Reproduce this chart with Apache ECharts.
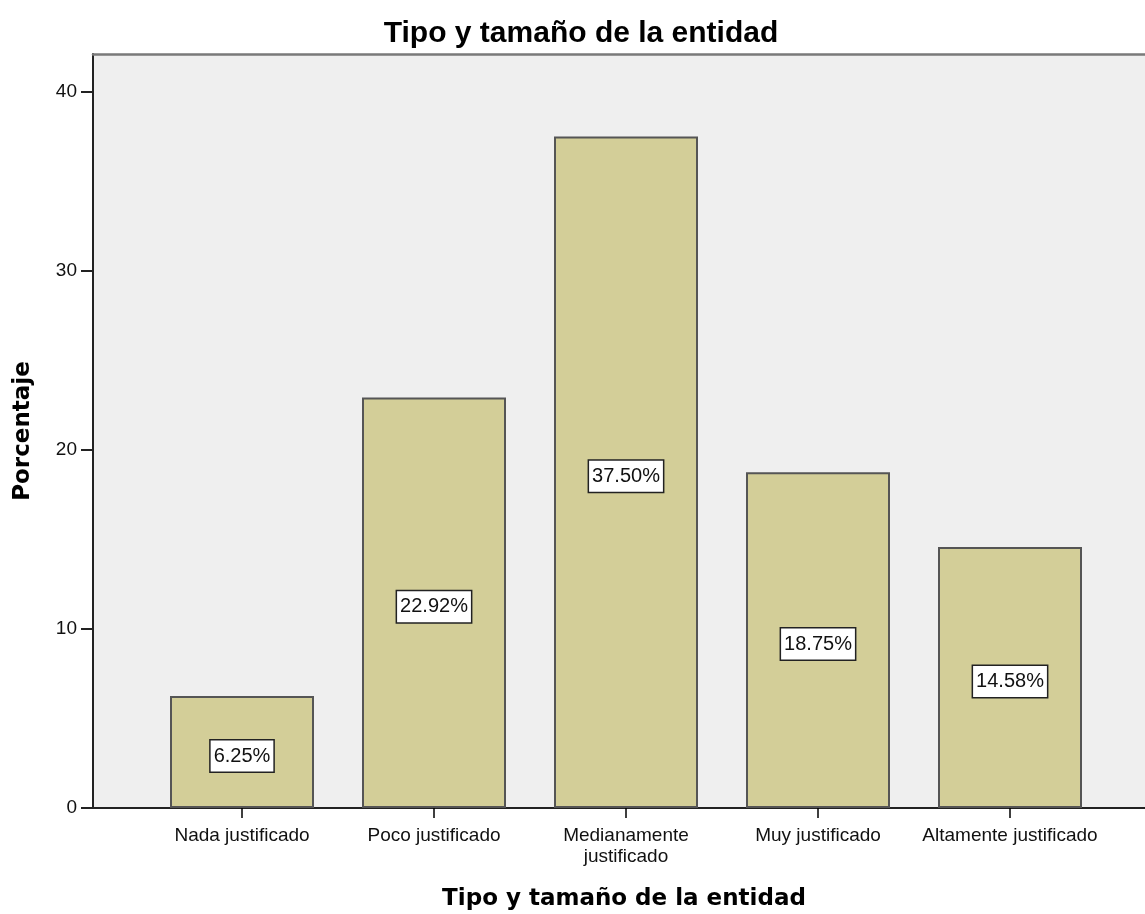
<!DOCTYPE html>
<html>
<head>
<meta charset="utf-8">
<script src="https://cdn.jsdelivr.net/npm/echarts@6/dist/echarts.min.js"></script>
<style>html,body{margin:0;padding:0;background:#fff}#c{width:1145px;height:914px}</style>
</head>
<body>
<div id="c"></div>
<script>
const categories = ['Nada justificado', 'Poco justificado', 'Medianamente\njustificado', 'Muy justificado', 'Altamente justificado'];
const values = [6.25, 22.92, 37.50, 18.75, 14.58];
const yTicks = [0, 10, 20, 30, 40];
const titleText = 'Tipo y tamaño de la entidad';
const xName = 'Tipo y tamaño de la entidad';
const yName = 'Porcentaje';

const FONT = '"Liberation Sans", Arial, sans-serif';
const NAMEFONT = '"DejaVu Sans", Verdana, sans-serif';
const YMAX = 42.1;
const chart = echarts.init(document.getElementById('c'), null, {renderer: 'canvas'});
chart.setOption({
  animation: false,
  backgroundColor: '#ffffff',
  textStyle: {fontFamily: FONT},
  title: {
    text: titleText, left: 576, top: 14,
    textAlign: 'center',
    textStyle: {fontFamily: FONT, fontSize: 30, fontWeight: 'bold', color: '#000'}
  },
  grid: [
    {left: 146, right: 39, top: 54, bottom: 106, outerBoundsMode: 'none'},
    {left: 93, right: -10, top: 54, bottom: 106, show: true, backgroundColor: '#efefef', borderWidth: 0, outerBoundsMode: 'none'}
  ],
  xAxis: [
    {
      type: 'category', gridIndex: 0, data: categories,
      axisLine: {show: false},
      axisTick: {show: true, alignWithLabel: true, length: 10, lineStyle: {color: '#000', width: 1.5}},
      axisLabel: {fontFamily: FONT, fontSize: 19, color: '#111', margin: 17, lineHeight: 21, interval: 0}
    },
    {
      type: 'value', gridIndex: 1, position: 'bottom', min: 0, max: 1,
      axisLine: {show: true, onZero: false, lineStyle: {color: '#222', width: 2}},
      axisTick: {show: false}, axisLabel: {show: false}, splitLine: {show: false},
      name: xName, nameLocation: 'middle', nameGap: 80,
      nameTextStyle: {fontFamily: NAMEFONT, fontSize: 23, fontWeight: 'bold', color: '#000'}
    },
    {
      type: 'value', gridIndex: 1, position: 'top', min: 0, max: 1,
      axisLine: {show: true, onZero: false, lineStyle: {color: '#7a7a7a', width: 2.5}},
      axisTick: {show: false}, axisLabel: {show: false}, splitLine: {show: false}
    }
  ],
  yAxis: [
    {
      type: 'value', gridIndex: 0, min: 0, max: YMAX,
      show: false
    },
    {
      type: 'value', gridIndex: 1, min: 0, max: YMAX, interval: 10,
      axisLine: {show: true, lineStyle: {color: '#222', width: 2}},
      axisTick: {show: true, length: 12, lineStyle: {color: '#222', width: 2}},
      axisLabel: {fontFamily: FONT, fontSize: 19, color: '#111', margin: 16, showMaxLabel: false,
        formatter: v => yTicks.includes(v) ? String(v) : ''},
      splitLine: {show: false},
      name: yName, nameLocation: 'middle', nameGap: 58, nameRotate: 90,
      nameTextStyle: {fontFamily: NAMEFONT, fontSize: 23, fontWeight: 'bold', color: '#000'}
    }
  ],
  series: [{
    type: 'bar', xAxisIndex: 0, yAxisIndex: 0,
    data: values, barWidth: 144,
    itemStyle: {color: '#d3ce98', borderColor: '#555', borderWidth: 2},
    label: {
      show: true, position: 'inside', offset: [0, 4],
      formatter: p => p.value.toFixed(2) + '%',
      fontFamily: FONT, fontSize: 20, color: '#111',
      backgroundColor: '#fff', borderColor: '#222', borderWidth: 1.5,
      padding: [6, 3, 5, 3]
    }
  }]
});
</script>
</body>
</html>
